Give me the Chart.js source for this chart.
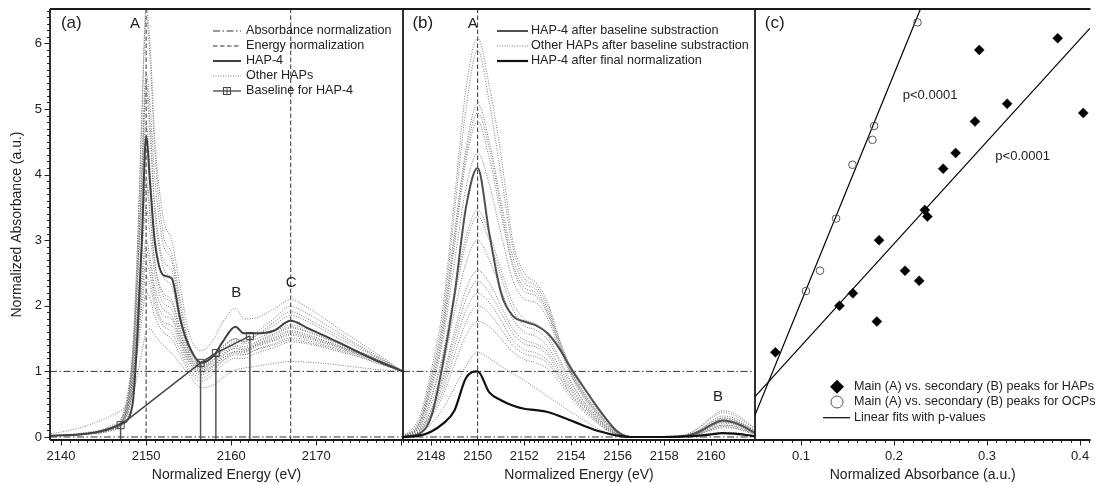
<!DOCTYPE html>
<html>
<head>
<meta charset="utf-8">
<script src="https://cdn.jsdelivr.net/npm/chart.js@4/dist/chart.umd.min.js"></script>
<style>
  html, body { margin: 0; padding: 0; background: #fff; }
  #wrap { position: relative; width: 1096px; height: 484px; overflow: hidden; }
  #wrap canvas { position: absolute; left: 0; top: 0; }
</style>
</head>
<body>
<div id="wrap">
  <canvas id="chartA" width="1096" height="484"></canvas>
  <canvas id="chartB" width="1096" height="484"></canvas>
  <canvas id="chartC" width="1096" height="484"></canvas>
</div>
<script>
// ---- shared y axis ----
const yTicks = [0, 1, 2, 3, 4, 5, 6];
const yLabels = ["0", "1", "2", "3", "4", "5", "6"];
const normLevels = [0, 1];           // absorbance normalization (dash-dot)

// ---- panel (a): raw spectra ----
const energyA = [2138.8, 2141, 2143, 2145, 2146, 2147, 2148, 2148.5, 2149, 2149.5, 2150, 2150.5, 2151, 2152, 2153, 2154, 2155, 2156.5, 2158, 2159, 2160.5, 2161.5, 2163, 2165, 2167, 2169, 2171, 2173, 2175, 2177, 2180.2];
const hap4A = [0.02, 0.03, 0.05, 0.1, 0.14, 0.2, 0.3, 0.6, 1.6, 3.0, 4.58, 3.8, 3.0, 2.47, 2.42, 1.8, 1.4, 1.13, 1.25, 1.45, 1.68, 1.58, 1.58, 1.62, 1.77, 1.66, 1.54, 1.42, 1.29, 1.17, 1.0];
const otherA = [
  [0.02, 0.04, 0.07, 0.12, 0.18, 0.27, 0.8, 1.5, 3.0, 5.0, 6.55, 5.9, 4.6, 3.35, 3.0, 2.3, 1.6, 1.32, 1.5, 1.75, 1.96, 1.8, 1.82, 1.95, 2.09, 1.97, 1.8, 1.62, 1.45, 1.28, 1.0],
  [0.02, 0.03, 0.06, 0.1, 0.15, 0.24, 0.75, 1.45, 2.9, 4.8, 6.4, 5.7, 4.4, 3.1, 2.8, 2.1, 1.45, 1.15, 1.25, 1.38, 1.5, 1.46, 1.55, 1.7, 1.85, 1.76, 1.62, 1.48, 1.35, 1.22, 1.0],
  [0.02, 0.03, 0.06, 0.1, 0.15, 0.22, 0.7, 1.35, 2.6, 4.2, 5.55, 5.0, 4.0, 2.95, 2.7, 2.0, 1.4, 1.12, 1.25, 1.38, 1.48, 1.45, 1.6, 1.8, 1.99, 1.88, 1.72, 1.56, 1.4, 1.25, 1.0],
  [0.02, 0.03, 0.05, 0.09, 0.14, 0.21, 0.65, 1.3, 2.5, 4.0, 5.4, 4.7, 3.6, 2.7, 2.55, 1.9, 1.3, 1.05, 1.18, 1.35, 1.5, 1.45, 1.55, 1.75, 1.91, 1.8, 1.66, 1.52, 1.38, 1.23, 1.0],
  [0.02, 0.03, 0.06, 0.1, 0.15, 0.22, 0.7, 1.3, 2.5, 3.9, 5.25, 4.5, 3.45, 2.6, 2.4, 1.85, 1.35, 1.1, 1.2, 1.32, 1.45, 1.42, 1.5, 1.6, 1.71, 1.64, 1.53, 1.42, 1.31, 1.2, 1.0],
  [0.02, 0.03, 0.05, 0.09, 0.14, 0.2, 0.6, 1.2, 2.3, 3.6, 4.8, 4.0, 3.1, 2.45, 2.3, 1.75, 1.3, 1.08, 1.18, 1.3, 1.4, 1.38, 1.46, 1.57, 1.68, 1.61, 1.51, 1.41, 1.3, 1.19, 1.0],
  [0.02, 0.03, 0.05, 0.09, 0.13, 0.2, 0.6, 1.1, 2.0, 3.0, 3.95, 3.4, 2.7, 2.2, 2.1, 1.65, 1.25, 1.06, 1.15, 1.27, 1.38, 1.35, 1.44, 1.55, 1.66, 1.6, 1.5, 1.4, 1.3, 1.19, 1.0],
  [0.02, 0.03, 0.05, 0.08, 0.13, 0.19, 0.55, 1.05, 1.95, 2.95, 3.85, 3.3, 2.65, 2.15, 2.05, 1.6, 1.22, 1.04, 1.13, 1.25, 1.35, 1.33, 1.42, 1.52, 1.62, 1.56, 1.47, 1.38, 1.28, 1.18, 1.0],
  [0.02, 0.03, 0.05, 0.08, 0.12, 0.19, 0.55, 1.0, 1.85, 2.75, 3.5, 3.05, 2.5, 2.05, 1.95, 1.55, 1.2, 1.02, 1.1, 1.2, 1.3, 1.3, 1.4, 1.5, 1.6, 1.54, 1.46, 1.37, 1.27, 1.17, 1.0],
  [0.02, 0.03, 0.05, 0.08, 0.12, 0.18, 0.5, 0.95, 1.7, 2.45, 3.0, 2.7, 2.3, 1.95, 1.85, 1.5, 1.17, 1.0, 1.1, 1.23, 1.35, 1.32, 1.4, 1.48, 1.57, 1.52, 1.44, 1.36, 1.27, 1.17, 1.0],
  [0.02, 0.03, 0.05, 0.08, 0.12, 0.18, 0.5, 0.9, 1.6, 2.3, 2.85, 2.6, 2.2, 1.85, 1.8, 1.45, 1.15, 0.98, 1.08, 1.2, 1.3, 1.29, 1.38, 1.46, 1.55, 1.5, 1.43, 1.35, 1.26, 1.16, 1.0],
  [0.02, 0.03, 0.05, 0.07, 0.11, 0.17, 0.45, 0.85, 1.5, 2.15, 2.65, 2.45, 2.1, 1.75, 1.7, 1.4, 1.1, 0.95, 1.05, 1.16, 1.25, 1.25, 1.34, 1.42, 1.51, 1.47, 1.4, 1.33, 1.25, 1.15, 1.0],
  [0.02, 0.03, 0.04, 0.07, 0.11, 0.17, 0.45, 0.8, 1.4, 2.0, 2.45, 2.3, 2.0, 1.7, 1.6, 1.32, 1.05, 0.9, 1.02, 1.16, 1.28, 1.26, 1.33, 1.4, 1.48, 1.44, 1.38, 1.31, 1.23, 1.14, 1.0],
  [0.02, 0.03, 0.04, 0.07, 0.1, 0.16, 0.4, 0.75, 1.3, 1.8, 2.2, 2.1, 1.85, 1.6, 1.5, 1.25, 1.0, 0.85, 0.97, 1.1, 1.2, 1.2, 1.28, 1.36, 1.45, 1.42, 1.36, 1.29, 1.22, 1.13, 1.0],
  [0.05, 0.1, 0.17, 0.27, 0.33, 0.4, 0.55, 0.7, 0.95, 1.3, 1.6, 1.65, 1.55, 1.4, 1.28, 1.12, 0.95, 0.75, 0.8, 0.9, 1.02, 1.05, 1.08, 1.12, 1.15, 1.14, 1.12, 1.09, 1.06, 1.03, 1.0]
];
const baseE = [2147, 2156.4, 2158.2, 2162.2];
const baseY = [0.18, 1.13, 1.28, 1.54];
const normEnergyA = [2150, 2167];
const xTicksA = [2140, 2150, 2160, 2170];
const xLabelsA = ["2140", "2150", "2160", "2170"];

// ---- panel (b): after baseline subtraction ----
const energyB = [2146.8, 2147.5, 2148, 2148.5, 2149, 2149.5, 2150, 2150.5, 2151, 2151.5, 2152, 2152.5, 2153, 2153.5, 2154, 2154.5, 2155, 2155.5, 2156, 2156.5, 2157, 2158, 2159, 2159.5, 2160, 2160.5, 2161, 2161.5, 2161.9];
const hap4B = [0, 0.05, 0.3, 1.1, 2.15, 3.5, 4.1, 3.1, 2.2, 1.85, 1.76, 1.7, 1.58, 1.35, 1.05, 0.78, 0.52, 0.28, 0.08, 0, 0, 0, 0.02, 0.08, 0.18, 0.25, 0.22, 0.14, 0.06];
const hap4Final = [0, 0.02, 0.08, 0.2, 0.4, 0.9, 1.0, 0.68, 0.56, 0.48, 0.43, 0.41, 0.38, 0.32, 0.25, 0.18, 0.11, 0.06, 0.02, 0, 0, 0, 0.01, 0.02, 0.04, 0.06, 0.05, 0.03, 0.01];
const otherB = [
  [0, 0.3, 1.0, 1.95, 3.6, 5.3, 6.08, 5.35, 4.3, 3.0, 2.5, 2.35, 2.05, 1.5, 1.05, 0.72, 0.48, 0.26, 0.1, 0.01, 0, 0, 0.04, 0.14, 0.28, 0.37, 0.33, 0.22, 0.12],
  [0, 0.25, 0.9, 1.8, 3.4, 5.0, 5.9, 5.1, 4.0, 2.9, 2.42, 2.3, 2.0, 1.48, 1.02, 0.7, 0.45, 0.24, 0.08, 0.01, 0, 0, 0.03, 0.1, 0.22, 0.29, 0.26, 0.17, 0.09],
  [0, 0.22, 0.85, 1.7, 3.1, 4.4, 5.08, 4.5, 3.6, 2.75, 2.35, 2.25, 1.95, 1.45, 1.0, 0.68, 0.44, 0.23, 0.08, 0.01, 0, 0, 0.03, 0.11, 0.24, 0.32, 0.29, 0.19, 0.1],
  [0, 0.2, 0.8, 1.6, 3.0, 4.3, 4.94, 4.4, 3.5, 2.65, 2.28, 2.2, 1.9, 1.42, 0.98, 0.66, 0.42, 0.22, 0.08, 0.01, 0, 0.01, 0.05, 0.15, 0.3, 0.4, 0.36, 0.24, 0.13],
  [0, 0.2, 0.75, 1.55, 2.9, 4.2, 4.81, 4.25, 3.4, 2.6, 2.22, 2.15, 1.87, 1.4, 0.96, 0.65, 0.41, 0.21, 0.07, 0.01, 0, 0, 0.03, 0.1, 0.21, 0.29, 0.26, 0.17, 0.09],
  [0, 0.18, 0.7, 1.45, 2.65, 3.8, 4.33, 3.85, 3.1, 2.4, 2.1, 2.05, 1.8, 1.35, 0.93, 0.62, 0.39, 0.2, 0.07, 0.01, 0, 0, 0.03, 0.09, 0.19, 0.27, 0.24, 0.16, 0.08],
  [0, 0.15, 0.6, 1.25, 2.2, 3.05, 3.46, 3.1, 2.55, 2.05, 1.8, 1.72, 1.55, 1.2, 0.85, 0.57, 0.36, 0.18, 0.06, 0.01, 0, 0, 0.02, 0.08, 0.17, 0.23, 0.21, 0.14, 0.07],
  [0, 0.15, 0.58, 1.2, 2.1, 2.95, 3.36, 3.0, 2.45, 1.95, 1.7, 1.63, 1.48, 1.15, 0.82, 0.55, 0.35, 0.17, 0.06, 0.01, 0, 0, 0.02, 0.08, 0.17, 0.24, 0.21, 0.14, 0.07],
  [0, 0.12, 0.5, 1.05, 1.9, 2.65, 3.0, 2.7, 2.25, 1.8, 1.6, 1.53, 1.38, 1.08, 0.77, 0.52, 0.33, 0.16, 0.05, 0, 0, 0, 0.02, 0.06, 0.13, 0.18, 0.17, 0.11, 0.06],
  [0, 0.1, 0.42, 0.9, 1.6, 2.25, 2.54, 2.35, 2.0, 1.65, 1.48, 1.42, 1.3, 1.02, 0.73, 0.5, 0.31, 0.15, 0.05, 0, 0, 0, 0.02, 0.07, 0.15, 0.21, 0.19, 0.12, 0.06],
  [0, 0.1, 0.4, 0.85, 1.5, 2.1, 2.38, 2.2, 1.9, 1.58, 1.42, 1.37, 1.25, 0.98, 0.7, 0.48, 0.3, 0.14, 0.04, 0, 0, 0, 0.02, 0.07, 0.16, 0.23, 0.2, 0.13, 0.07],
  [0, 0.09, 0.36, 0.78, 1.38, 1.93, 2.19, 2.05, 1.78, 1.48, 1.33, 1.28, 1.17, 0.93, 0.66, 0.45, 0.28, 0.13, 0.04, 0, 0, 0, 0.01, 0.05, 0.11, 0.16, 0.14, 0.09, 0.05],
  [0, 0.08, 0.33, 0.7, 1.25, 1.75, 2.0, 1.88, 1.65, 1.4, 1.27, 1.22, 1.12, 0.9, 0.64, 0.43, 0.27, 0.12, 0.04, 0, 0, 0, 0.01, 0.04, 0.1, 0.14, 0.13, 0.08, 0.04],
  [0, 0.07, 0.3, 0.62, 1.1, 1.55, 1.76, 1.68, 1.5, 1.3, 1.18, 1.13, 1.04, 0.84, 0.6, 0.4, 0.25, 0.11, 0.03, 0, 0, 0, 0.01, 0.05, 0.12, 0.18, 0.16, 0.1, 0.05],
  [0, 0.05, 0.2, 0.42, 0.75, 1.08, 1.29, 1.2, 1.08, 0.97, 0.86, 0.74, 0.62, 0.5, 0.38, 0.27, 0.16, 0.07, 0.02, 0, 0, 0, 0.01, 0.03, 0.05, 0.07, 0.065, 0.04, 0.02]
];
const normEnergyB = [2150];
const xTicksB = [2148, 2150, 2152, 2154, 2156, 2158, 2160];
const xLabelsB = ["2148", "2150", "2152", "2154", "2156", "2158", "2160"];

// ---- panel (c): main (A) vs secondary (B) peak ----
const hapPeakB = [0.2916, 0.3759, 0.3216, 0.4034, 0.2870, 0.2662, 0.2528, 0.2330, 0.2358, 0.1839, 0.2118, 0.2270, 0.1557, 0.1413, 0.1815, 0.0724];
const hapPeakA = [5.90, 6.08, 5.08, 4.94, 4.81, 4.33, 4.09, 3.46, 3.36, 3.00, 2.535, 2.38, 2.19, 2.00, 1.76, 1.29];
const ocpPeakB = [0.2252, 0.1786, 0.1768, 0.1553, 0.1377, 0.1204, 0.1053];
const ocpPeakA = [6.32, 4.74, 4.53, 4.15, 3.33, 2.535, 2.225];
const fitHapX = [0.0505, 0.4105];
const fitHapY = [0.614, 6.23];
const fitOcpX = [0.0505, 0.2284];
const fitOcpY = [0.335, 6.524];
const xTicksC = [0.1, 0.2, 0.3, 0.4];
const xLabelsC = ["0.1", "0.2", "0.3", "0.4"];

const FONT = "'Liberation Sans', Arial, Helvetica, sans-serif";
const INK = "#222";
const Y_MIN = -0.046, Y_MAX = 6.524;
const X_A = [2138.7, 2180.2], X_B = [2146.8, 2161.89], X_C = [0.0505, 0.4112];

function pts(xs, ys) { return xs.map((x, i) => ({ x: x, y: ys[i] })); }

function curve(xs, ys, color, width, dash) {
  return {
    data: pts(xs, ys), showLine: true, pointRadius: 0, fill: false,
    borderColor: color, borderWidth: width, borderDash: dash || [],
    cubicInterpolationMode: "monotone"
  };
}
function straight(data, color, width, dash) {
  return { data: data, showLine: true, pointRadius: 0, borderColor: color, borderWidth: width, borderDash: dash || [], tension: 0 };
}
function hLines(levels, range) {
  return levels.map(l => straight([{ x: range[0], y: l }, { x: range[1], y: l }], "#333", 1, [7, 2.5, 1.5, 2.5]));
}
function vLines(energies) {
  return energies.map(e => straight([{ x: e, y: Y_MIN }, { x: e, y: Y_MAX }], "#333", 1, [4.5, 2.5]));
}

// ---- small drawing helpers for legends/labels ----
function sample(ctx, x1, x2, y, color, width, dash) {
  ctx.save();
  ctx.strokeStyle = color; ctx.lineWidth = width; ctx.setLineDash(dash || []);
  ctx.beginPath(); ctx.moveTo(x1, y); ctx.lineTo(x2, y); ctx.stroke();
  ctx.restore();
}
function text(ctx, t, x, y, size, align) {
  ctx.save();
  ctx.fillStyle = INK; ctx.font = size + "px " + FONT;
  ctx.textAlign = align || "left"; ctx.textBaseline = "middle";
  ctx.fillText(t, x, y);
  ctx.restore();
}

function legendA(ctx) {
  const rows = [
    { t: "Absorbance normalization", c: "#333", w: 1, d: [7, 2.5, 1.5, 2.5] },
    { t: "Energy normalization", c: "#333", w: 1, d: [4.5, 2.5] },
    { t: "HAP-4", c: "#404040", w: 2 },
    { t: "Other HAPs", c: "#7a7a7a", w: 1, d: [1, 1.5] },
    { t: "Baseline for HAP-4", c: "#444", w: 1.3, box: true }
  ];
  rows.forEach((r, i) => {
    const y = 31 + i * 15;
    sample(ctx, 213, 241, y, r.c, r.w, r.d);
    if (r.box) {
      ctx.save(); ctx.strokeStyle = r.c; ctx.lineWidth = 1;
      ctx.strokeRect(223.5, y - 3.5, 7, 7);
      ctx.beginPath(); ctx.moveTo(227, y - 3.5); ctx.lineTo(227, y + 3.5); ctx.stroke();
      ctx.restore();
    }
    text(ctx, r.t, 246, y, 12.6);
  });
}
function legendB(ctx) {
  const rows = [
    { t: "HAP-4 after baseline substraction", c: "#505050", w: 2 },
    { t: "Other HAPs after baseline substraction", c: "#7a7a7a", w: 1, d: [1, 1.5] },
    { t: "HAP-4 after final normalization", c: "#111", w: 2.2 }
  ];
  rows.forEach((r, i) => {
    const y = 31 + i * 15;
    sample(ctx, 497, 528, y, r.c, r.w, r.d);
    text(ctx, r.t, 531, y, 12.6);
  });
}
function legendC(ctx) {
  ctx.save();
  ctx.fillStyle = "#000";
  ctx.beginPath();
  ctx.moveTo(837, 379.7); ctx.lineTo(844, 386.7); ctx.lineTo(837, 393.7); ctx.lineTo(830, 386.7);
  ctx.closePath(); ctx.fill();
  ctx.strokeStyle = "#555"; ctx.lineWidth = 1;
  ctx.beginPath(); ctx.arc(837, 402, 6, 0, Math.PI * 2); ctx.stroke();
  ctx.restore();
  sample(ctx, 823, 850, 417.7, "#000", 1.2);
  text(ctx, "Main (A) vs. secondary (B) peaks for HAPs", 854, 387, 12.6);
  text(ctx, "Main (A) vs. secondary (B) peaks for OCPs", 854, 402, 12.6);
  text(ctx, "Linear fits with p-values", 854, 418, 12.6);
}

const extras = {
  chartA: {
    xMinor: 1, xMajor: 10, yTicks: true, left: true, right: true, legend: legendA,
    texts: [
      { t: "(a)", x: 2141.2, y: 6.3, s: 17, a: "center" },
      { t: "A", x: 2148.7, y: 6.3, s: 15, a: "center" },
      { t: "B", x: 2160.6, y: 2.2, s: 15, a: "center" },
      { t: "C", x: 2167.06, y: 2.35, s: 15, a: "center" }
    ]
  },
  chartB: {
    xMinor: 0.2, xMajor: 2, right: true, legend: legendB,
    texts: [
      { t: "(b)", x: 2147.65, y: 6.3, s: 17, a: "center" },
      { t: "A", x: 2149.79, y: 6.3, s: 15, a: "center" },
      { t: "B", x: 2160.3, y: 0.61, s: 15, a: "center" }
    ]
  },
  chartC: {
    xMinor: 0.01, xMajor: 0.1, legend: legendC,
    texts: [
      { t: "(c)", x: 0.0717, y: 6.3, s: 17, a: "center" },
      { t: "p<0.0001", x: 0.2094, y: 5.21, s: 13, a: "left" },
      { t: "p<0.0001", x: 0.3089, y: 4.28, s: 13, a: "left" }
    ]
  }
};

// frame, tick marks (major + minor), labels and legends
const decor = {
  id: "decor",
  afterDraw(chart) {
    const ex = extras[chart.canvas.id];
    const { ctx, chartArea: ca, scales } = chart;
    const xs = scales.x, ys = scales.y;
    ctx.save();
    ctx.strokeStyle = INK; ctx.lineWidth = 1;
    const nx = Math.round(ex.xMajor / ex.xMinor);
    for (let i = Math.ceil(xs.min / ex.xMinor - 1e-6); i * ex.xMinor <= xs.max + 1e-9; i++) {
      const px = Math.round(xs.getPixelForValue(i * ex.xMinor)) + 0.5;
      const len = (i % nx === 0) ? 5.5 : 3;
      ctx.beginPath(); ctx.moveTo(px, ca.bottom); ctx.lineTo(px, ca.bottom + len); ctx.stroke();
    }
    if (ex.yTicks) {
      for (let i = 0; i * 0.1 <= ys.max; i++) {
        const py = Math.round(ys.getPixelForValue(i * 0.1)) + 0.5;
        const len = (i % 10 === 0) ? 5.5 : 3;
        ctx.beginPath(); ctx.moveTo(ca.left, py); ctx.lineTo(ca.left - len, py); ctx.stroke();
      }
    }
    ctx.lineWidth = 1.8; ctx.strokeStyle = "#1a1a1a";
    ctx.beginPath();
    ctx.moveTo(ca.left, ca.top); ctx.lineTo(ca.right, ca.top);
    ctx.moveTo(ca.left, ca.bottom); ctx.lineTo(ca.right, ca.bottom);
    if (ex.left) { ctx.moveTo(ca.left, ca.top); ctx.lineTo(ca.left, ca.bottom); }
    if (ex.right) { ctx.moveTo(ca.right, ca.top); ctx.lineTo(ca.right, ca.bottom); }
    ctx.stroke();
    ctx.restore();
    ex.texts.forEach(l => text(ctx, l.t, xs.getPixelForValue(l.x), ys.getPixelForValue(l.y), l.s, l.a));
    ex.legend(ctx);
  }
};

function makeChart(id, datasets, range, ticks, labels, xTitle, showY, pad) {
  return new Chart(document.getElementById(id), {
    type: "scatter",
    data: { datasets: datasets },
    options: {
      responsive: false,
      animation: false,
      events: [],
      layout: { padding: pad },
      plugins: { legend: { display: false }, tooltip: { enabled: false } },
      scales: {
        x: {
          type: "linear", min: range[0], max: range[1],
          afterBuildTicks: s => { s.ticks = ticks.map(v => ({ value: v })); },
          afterFit: s => { s.height = 44; s.paddingLeft = 0; s.paddingRight = 0; },
          grid: { display: false, drawTicks: false },
          border: { display: false },
          ticks: { padding: 9, autoSkip: false, maxRotation: 0, color: INK, font: { family: FONT, size: 13 }, callback: (v, i) => labels[i] },
          title: { display: true, text: xTitle, color: INK, font: { family: FONT, size: 14 }, padding: { top: 0, bottom: 0 } }
        },
        y: {
          type: "linear", min: Y_MIN, max: Y_MAX, display: showY,
          afterBuildTicks: s => { s.ticks = yTicks.map(v => ({ value: v })); },
          afterFit: s => { s.width = showY ? 50 : 0; s.paddingTop = 0; s.paddingBottom = 0; },
          grid: { display: false, drawTicks: false },
          border: { display: false },
          ticks: { padding: 8, color: INK, font: { family: FONT, size: 13 }, callback: (v, i) => yLabels[i] },
          title: { display: showY, text: "Normalized Absorbance (a.u.)", color: INK, font: { family: FONT, size: 14 }, padding: { top: 9, bottom: 0 } }
        }
      }
    },
    plugins: [decor]
  });
}

// panel (a) — first dataset is drawn on top
const dsA = [];
dsA.push({
  data: pts(baseE, baseY), showLine: true, tension: 0, borderColor: "#444", borderWidth: 1.4,
  pointStyle: "rect", pointRadius: 5, pointBorderWidth: 1, pointBorderColor: "#444", pointBackgroundColor: "rgba(255,255,255,0)"
});
baseE.forEach((e, i) => dsA.push(straight([{ x: e, y: Y_MIN }, { x: e, y: baseY[i] }], "#555", 1.5)));
dsA.push(curve(energyA, hap4A, "#404040", 2));
otherA.forEach(s => dsA.push(curve(energyA, s, "#7a7a7a", 1, [1, 1.5])));
vLines(normEnergyA).forEach(d => dsA.push(d));
hLines(normLevels, X_A).forEach(d => dsA.push(d));
makeChart("chartA", dsA, X_A, xTicksA, xLabelsA, "Normalized Energy (eV)", true, { left: 0, right: 693, top: 9, bottom: 0 });

// panel (b)
const dsB = [];
dsB.push(curve(energyB, hap4Final, "#111", 2.2));
dsB.push(curve(energyB, hap4B, "#505050", 2));
otherB.forEach(s => dsB.push(curve(energyB, s, "#7a7a7a", 1, [1, 1.5])));
vLines(normEnergyB).forEach(d => dsB.push(d));
hLines(normLevels, X_B).forEach(d => dsB.push(d));
makeChart("chartB", dsB, X_B, xTicksB, xLabelsB, "Normalized Energy (eV)", false, { left: 403, right: 341, top: 9, bottom: 0 });

// panel (c)
const dsC = [
  { data: pts(hapPeakB, hapPeakA), pointStyle: "rectRot", pointRadius: 5, pointBackgroundColor: "#000", pointBorderColor: "#000", pointBorderWidth: 0.5 },
  { data: pts(ocpPeakB, ocpPeakA), pointStyle: "circle", pointRadius: 3.8, pointBackgroundColor: "rgba(255,255,255,0)", pointBorderColor: "#555", pointBorderWidth: 1 },
  straight(pts(fitHapX, fitHapY), "#000", 1.2),
  straight(pts(fitOcpX, fitOcpY), "#000", 1.2)
];
makeChart("chartC", dsC, X_C, xTicksC, xLabelsC, "Normalized Absorbance (a.u.)", false, { left: 755, right: 0, top: 9, bottom: 0 });
</script>
</body>
</html>
